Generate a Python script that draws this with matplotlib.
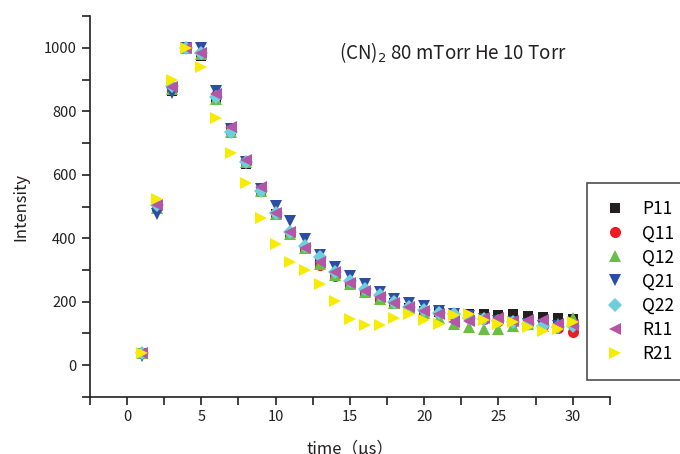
import matplotlib
matplotlib.use("Agg")
from matplotlib import pyplot as plt
from matplotlib.ticker import MultipleLocator
import numpy as np

plt.rcParams['font.family'] = ['Noto Sans CJK JP', 'DejaVu Sans']

t = np.arange(1, 31)

P11 = [38, 495, 865, 1000, 975, 835, 740, 635, 545, 478, 410, 365, 320, 285, 255,
       228, 210, 195, 180, 172, 167, 163, 160, 160, 158, 160, 155, 152, 150, 145]
Q11 = [38, 500, 870, 1000, 985, 850, 745, 640, 555, 480, 415, 370, 315, 280, 255,
       230, 210, 200, 185, 172, 165, 155, 150, 145, 140, 135, 130, 125, 118, 105]
Q12 = [38, 495, 870, 1000, 980, 840, 735, 640, 550, 478, 415, 368, 320, 285, 255,
       230, 210, 195, 180, 165, 150, 130, 120, 115, 115, 125, 130, 125, 130, 150]
Q21 = [30, 475, 858, 1000, 998, 865, 745, 640, 555, 503, 455, 398, 347, 310, 282,
       256, 232, 209, 196, 186, 170, 160, 155, 145, 140, 135, 130, 125, 125, 125]
Q22 = [40, 505, 880, 1000, 985, 845, 735, 640, 550, 480, 420, 375, 340, 295, 265,
       240, 220, 200, 185, 175, 165, 160, 150, 145, 140, 135, 130, 125, 120, 125]
R11 = [38, 505, 875, 1000, 985, 855, 750, 645, 560, 480, 420, 368, 325, 295, 260,
       235, 215, 195, 185, 170, 161, 135, 140, 150, 150, 140, 143, 143, 130, 126]
R21 = [38, 525, 900, 1000, 940, 780, 670, 575, 465, 383, 325, 300, 255, 202, 146,
       126, 127, 149, 160, 143, 130, 157, 160, 143, 130, 137, 120, 107, 113, 137]

series = [
    ("P11", P11, 's', '#231f20', 7),
    ("Q11", Q11, 'o', '#ed1c24', 8),
    ("Q12", Q12, '^', '#6abd45', 8.5),
    ("Q21", Q21, 'v', '#2b4ea2', 8.5),
    ("Q22", Q22, 'D', '#6dcfdc', 7),
    ("R11", R11, '<', '#b455a8', 8.5),
    ("R21", R21, '>', '#f7ec00', 8.5),
]

fig = plt.figure(figsize=(6.8, 4.54), dpi=100)
ax = fig.add_axes([0.132, 0.1256, 0.765, 0.839])

for name, vals, mk, col, ms in series:
    ax.plot(t, vals, linestyle='none', marker=mk, color=col, markersize=ms,
            markeredgewidth=0, label=name)

ax.set_xlim(-2.5, 32.5)
ax.set_ylim(-100, 1100)
ax.xaxis.set_major_locator(MultipleLocator(5))
ax.xaxis.set_minor_locator(MultipleLocator(2.5))
ax.yaxis.set_major_locator(MultipleLocator(200))
ax.yaxis.set_minor_locator(MultipleLocator(100))
ax.spines['top'].set_visible(False)
ax.spines['right'].set_visible(False)
for s in ('left', 'bottom'):
    ax.spines[s].set_linewidth(1.2)
    ax.spines[s].set_color('#231f20')
ax.tick_params(which='both', direction='out', width=1.2, color='#231f20',
               labelsize=10.5, labelcolor='#231f20', length=6)

ax.set_xlabel('time（μs）', fontsize=12, color='#231f20', labelpad=12)
ax.set_ylabel('Intensity', fontsize=12, color='#231f20', labelpad=10)

ax.text(0.48, 0.905, r'(CN)$_2$ 80 mTorr He 10 Torr', transform=ax.transAxes,
        fontsize=13.5, color='#231f20', ha='left', va='center')

leg = fig.legend(loc='upper left', bbox_to_anchor=(0.863, 0.597), fontsize=12.5,
                 frameon=True, fancybox=False, edgecolor='#231f20',
                 handletextpad=1.0, labelspacing=0.35, borderpad=1.0,
                 handlelength=1.2, borderaxespad=0)
leg.get_frame().set_linewidth(1.2)

fig.savefig('out.png', dpi=100)
